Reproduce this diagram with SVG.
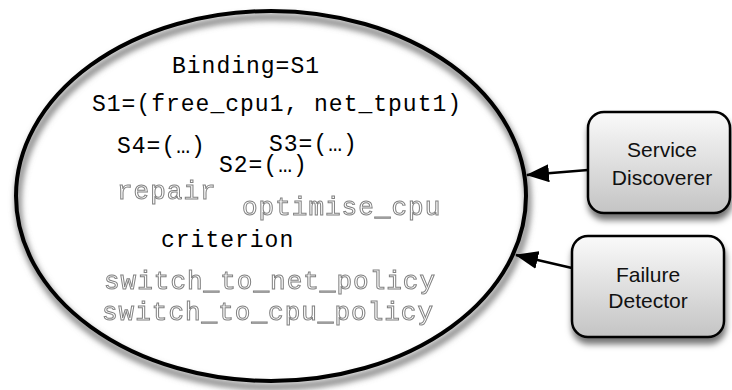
<svg xmlns="http://www.w3.org/2000/svg" width="732" height="390" viewBox="0 0 732 390">
<defs>
<filter id="sh" x="-20%" y="-20%" width="140%" height="150%">
<feDropShadow dx="1" dy="6" stdDeviation="3" flood-color="#000" flood-opacity="0.55"/>
</filter>
<filter id="blur" x="-10%" y="-10%" width="120%" height="120%">
<feGaussianBlur stdDeviation="3"/>
</filter>
<linearGradient id="boxg" x1="0" y1="0" x2="0" y2="1">
<stop offset="0" stop-color="#fafafa"/>
<stop offset="1" stop-color="#c4c4c4"/>
</linearGradient>
<marker id="arr" markerWidth="24" markerHeight="18" refX="22" refY="9" orient="auto" markerUnits="userSpaceOnUse" viewBox="0 0 24 18">
<path d="M0,0 L23,9 L0,18 z" fill="#000"/>
</marker>
<style>
.mono{font-family:"Liberation Mono","Courier New",monospace;font-size:23px;letter-spacing:1px;fill:#000}
.out{font-family:"Liberation Mono","Courier New",monospace;font-size:26px;letter-spacing:1px;fill:#fff;stroke:#808080;stroke-width:1}
.box{fill:url(#boxg);stroke:#000;stroke-width:2.5}
.lbl{font-family:"Liberation Sans",Arial,sans-serif;font-size:21px;fill:#111;text-anchor:middle}
.conn{stroke:#000;stroke-width:2.5;fill:none}
</style>
</defs>
<rect width="732" height="390" fill="#fff"/>
<g id="context">
<ellipse cx="273" cy="202" rx="255" ry="185" fill="none" stroke="#777" stroke-width="6" filter="url(#blur)"/>
<ellipse cx="271" cy="196" rx="255" ry="185" fill="none" stroke="#000" stroke-width="4"/>
<text class="mono" x="172" y="73">Binding=S1</text>
<text class="mono" x="92" y="111">S1=(free_cpu1, net_tput1)</text>
<text class="mono" x="117" y="153">S4=(…)</text>
<text class="mono" x="269" y="151">S3=(…)</text>
<text class="mono" x="219" y="172">S2=(…)</text>
<g opacity="0.99">
<text class="out" x="117" y="199">repair</text>
<text class="out" x="242" y="215">optimise_cpu</text>
<text class="out" x="104" y="289">switch_to_net_policy</text>
<text class="out" x="102" y="320">switch_to_cpu_policy</text>
</g>
<text class="mono" x="161" y="247">criterion</text>
</g>
<g id="service-discoverer">
<rect class="box" x="588" y="112" width="142" height="101" rx="16" filter="url(#sh)"/>
<text class="lbl" x="662" y="157">Service</text>
<text class="lbl" x="662" y="185">Discoverer</text>
</g>
<g id="failure-detector">
<rect class="box" x="572" y="236" width="152" height="101" rx="16" filter="url(#sh)"/>
<text class="lbl" x="648" y="282">Failure</text>
<text class="lbl" x="648" y="308">Detector</text>
</g>
<g id="connectors">
<line class="conn" x1="588" y1="170" x2="527" y2="175" marker-end="url(#arr)"/>
<line class="conn" x1="572" y1="268" x2="516" y2="255" marker-end="url(#arr)"/>
</g>
</svg>
